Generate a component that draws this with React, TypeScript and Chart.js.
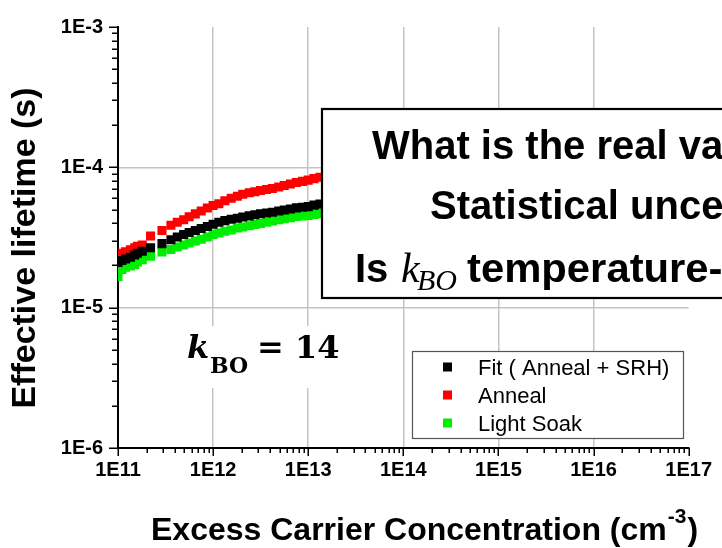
import React, { useEffect, useRef } from 'react';
import { Chart, registerables } from 'chart.js';

Chart.register(...registerables);

const SANS = "'Liberation Sans', Arial, Helvetica, sans-serif";
const SERIF = "'DejaVu Serif', 'Liberation Serif', serif";
const MATH_ITALIC = "'Liberation Serif', 'DejaVu Serif', serif";

// Excess carrier concentration (cm^-3) shared by all three series
const excessCarrierDensity = [
  1.0e11, 1.1e11, 1.2e11, 1.35e11, 1.5e11, 1.6e11, 1.8e11, 2.2e11, 2.9e11, 3.6e11,
  4.2e11, 4.9e11, 5.6e11, 6.5e11, 7.5e11, 8.7e11, 1.0e12, 1.15e12, 1.33e12, 1.55e12,
  1.8e12, 2.05e12, 2.4e12, 2.75e12, 3.15e12, 3.65e12, 4.2e12, 4.9e12, 5.6e12, 6.5e12,
  7.5e12, 8.7e12, 1.0e13, 1.15e13, 1.33e13, 1.55e13,
];

// Effective lifetime (s)
const fitLifetime = [
  2.10e-5, 2.17e-5, 2.22e-5, 2.29e-5, 2.37e-5, 2.44e-5, 2.52e-5, 2.67e-5, 2.86e-5, 3.05e-5,
  3.19e-5, 3.32e-5, 3.43e-5, 3.55e-5, 3.67e-5, 3.79e-5, 3.93e-5, 4.06e-5, 4.17e-5, 4.26e-5,
  4.34e-5, 4.42e-5, 4.51e-5, 4.60e-5, 4.67e-5, 4.72e-5, 4.78e-5, 4.89e-5, 4.96e-5, 5.05e-5,
  5.14e-5, 5.20e-5, 5.25e-5, 5.38e-5, 5.47e-5, 5.56e-5,
];
const annealLifetime = [
  2.37e-5, 2.44e-5, 2.50e-5, 2.59e-5, 2.67e-5, 2.74e-5, 2.80e-5, 3.24e-5, 3.55e-5, 3.87e-5,
  4.06e-5, 4.23e-5, 4.44e-5, 4.66e-5, 4.89e-5, 5.13e-5, 5.34e-5, 5.51e-5, 5.78e-5, 6.02e-5,
  6.22e-5, 6.44e-5, 6.58e-5, 6.69e-5, 6.83e-5, 6.96e-5, 7.07e-5, 7.25e-5, 7.42e-5, 7.60e-5,
  7.79e-5, 7.94e-5, 8.11e-5, 8.31e-5, 8.51e-5, 8.72e-5,
];
const lightSoakLifetime = [
  1.67e-5, 1.87e-5, 1.94e-5, 1.98e-5, 2.03e-5, 2.12e-5, 2.20e-5, 2.33e-5, 2.49e-5, 2.60e-5,
  2.71e-5, 2.80e-5, 2.89e-5, 2.99e-5, 3.07e-5, 3.19e-5, 3.32e-5, 3.40e-5, 3.50e-5, 3.58e-5,
  3.69e-5, 3.76e-5, 3.84e-5, 3.91e-5, 3.98e-5, 4.06e-5, 4.14e-5, 4.23e-5, 4.31e-5, 4.38e-5,
  4.46e-5, 4.50e-5, 4.54e-5, 4.62e-5, 4.68e-5, 4.75e-5,
];

const seriesNames = ['Fit ( Anneal + SRH)', 'Anneal', 'Light Soak'];
const seriesColors = ['#000000', '#ff0000', '#00ee00'];

const xDecadeExponents = [11, 12, 13, 14, 15, 16, 17];
const xDecadeLabels = ['1E11', '1E12', '1E13', '1E14', '1E15', '1E16', '1E17'];
const yDecadeExponents = [-6, -5, -4, -3];
const yDecadeLabels = ['1E-6', '1E-5', '1E-4', '1E-3'];
const minorMultipliers = [2, 3, 4, 5, 6, 7, 8, 9];

const xTitle = 'Excess Carrier Concentration (cm';
const xTitleSuperscript = '-3';
const yTitle = 'Effective lifetime (s)';
const kboSymbol = 'k';
const kboSubscript = 'BO';
const kboValue = '14';
const questionLine1 = 'What is the real value?';
const questionLine2 = 'Statistical uncertainty?';
const questionLine3Start = 'Is ';
const questionLine3End = 'temperature-dependent?';

type TickItem = { value: number; major: boolean };

function buildLogTicks(exps: number[]): TickItem[] {
  const ticks: TickItem[] = [];
  exps.forEach((e, i) => {
    const base = Math.pow(10, e);
    ticks.push({ value: base, major: true });
    if (i < exps.length - 1) {
      minorMultipliers.forEach((m) => ticks.push({ value: m * base, major: false }));
    }
  });
  return ticks;
}

function decadeLabel(value: number, exps: number[], labels: string[]): string {
  const e = Math.log10(value);
  if (Math.abs(e - Math.round(e)) > 1e-6) return '';
  const i = exps.indexOf(Math.round(e));
  return i >= 0 ? labels[i] : '';
}

function isDecade(value: number): boolean {
  const e = Math.log10(value);
  return Math.abs(e - Math.round(e)) < 1e-6;
}

const GRID = '#c4c4c4';

const overlayPlugin = {
  id: 'overlay',
  afterDraw(chart: any) {
    const ctx: CanvasRenderingContext2D = chart.ctx;
    const xs = chart.scales.x;
    const ys = chart.scales.y;

    // tick marks (major longer than minor), pointing outward
    ctx.save();
    ctx.strokeStyle = '#000';
    ctx.lineWidth = 1.5;
    for (const t of xs.ticks) {
      const px = Math.round(xs.getPixelForValue(t.value)) + 0.25;
      const len = isDecade(t.value) ? 8 : 5;
      ctx.beginPath();
      ctx.moveTo(px, xs.top);
      ctx.lineTo(px, xs.top + len);
      ctx.stroke();
    }
    for (const t of ys.ticks) {
      const py = Math.round(ys.getPixelForValue(t.value)) + 0.25;
      const len = isDecade(t.value) ? 9 : 6;
      ctx.beginPath();
      ctx.moveTo(ys.right, py);
      ctx.lineTo(ys.right - len, py);
      ctx.stroke();
    }
    ctx.restore();

    // legend
    ctx.save();
    ctx.fillStyle = '#fff';
    ctx.fillRect(412, 351, 271, 87);
    ctx.strokeStyle = '#555';
    ctx.lineWidth = 1.2;
    ctx.strokeRect(412.5, 351.5, 271, 87);
    ctx.font = `22px ${SANS}`;
    ctx.textBaseline = 'alphabetic';
    chart.data.datasets.forEach((ds: any, i: number) => {
      const cy = 367 + i * 28;
      ctx.fillStyle = ds.backgroundColor;
      ctx.fillRect(443, cy - 4.5, 9, 9);
      ctx.fillStyle = '#000';
      ctx.fillText(ds.label, 478, cy + 8);
    });
    ctx.restore();

    // axis titles
    ctx.save();
    ctx.fillStyle = '#000';
    ctx.font = `bold 32px ${SANS}`;
    ctx.textBaseline = 'alphabetic';
    ctx.fillText(xTitle, 151, 540);
    const w1 = ctx.measureText(xTitle).width;
    ctx.font = `bold 21px ${SANS}`;
    ctx.fillText(xTitleSuperscript, 151 + w1 + 1, 523);
    const w2 = ctx.measureText(xTitleSuperscript).width;
    ctx.font = `bold 32px ${SANS}`;
    ctx.fillText(')', 151 + w1 + w2 + 2, 540);

    ctx.translate(26, 248);
    ctx.rotate(-Math.PI / 2);
    ctx.font = `bold 34px ${SANS}`;
    ctx.textAlign = 'center';
    ctx.textBaseline = 'middle';
    ctx.fillText(yTitle, 0, 0);
    ctx.restore();

    // k_BO annotation
    ctx.save();
    ctx.fillStyle = '#fff';
    ctx.fillRect(182, 326, 168, 62);
    ctx.fillStyle = '#000';
    ctx.textBaseline = 'alphabetic';
    ctx.font = `italic bold 32px ${SERIF}`;
    ctx.fillText(kboSymbol, 187, 358);
    ctx.font = `bold 22px ${SERIF}`;
    ctx.fillText(kboSubscript, 210, 373);
    ctx.font = `bold 32px ${SERIF}`;
    ctx.fillText('= ' + kboValue, 257, 358);
    ctx.restore();

    // question box
    ctx.save();
    ctx.fillStyle = '#fff';
    ctx.fillRect(322, 109, 420, 189);
    ctx.strokeStyle = '#000';
    ctx.lineWidth = 2.2;
    ctx.strokeRect(322, 109, 420, 189);
    ctx.fillStyle = '#000';
    ctx.textBaseline = 'alphabetic';
    ctx.font = `bold 40px ${SANS}`;
    ctx.fillText(questionLine1, 372, 159);
    ctx.fillText(questionLine2, 430, 219);
    ctx.fillText(questionLine3Start, 355, 282);
    ctx.font = `italic 42px ${MATH_ITALIC}`;
    ctx.fillText(kboSymbol, 401, 282);
    ctx.font = `italic 30px ${MATH_ITALIC}`;
    ctx.fillText(kboSubscript, 417, 290);
    ctx.translate(467, 282);
    ctx.scale(1.045, 1);
    ctx.font = `bold 40px ${SANS}`;
    ctx.fillText(questionLine3End, 0, 0);
    ctx.restore();
  },
};

export default function App() {
  const canvasRef = useRef<HTMLCanvasElement>(null);

  useEffect(() => {
    document.body.style.margin = '0';
    const canvas = canvasRef.current;
    if (!canvas) return;

    const toPoints = (ys: number[]) => excessCarrierDensity.map((x, i) => ({ x, y: ys[i] }));
    const seriesValues = [fitLifetime, annealLifetime, lightSoakLifetime];

    const chart = new Chart(canvas, {
      type: 'scatter',
      data: {
        datasets: seriesValues.map((vals, i) => ({
          label: seriesNames[i],
          data: toPoints(vals),
          backgroundColor: seriesColors[i],
          borderColor: seriesColors[i],
          borderWidth: 0,
          pointStyle: 'rect',
          pointRadius: 6.4,
          pointHoverRadius: 6.4,
          clip: 0,
        })),
      },
      options: {
        responsive: false,
        maintainAspectRatio: false,
        animation: false,
        events: [],
        layout: { padding: { left: 0, top: 19, right: 28, bottom: 0 } },
        plugins: {
          legend: { display: false },
          tooltip: { enabled: false },
        },
        scales: {
          x: {
            type: 'logarithmic',
            min: 1e11,
            max: 1e17,
            afterFit: (s: any) => { s.height = 100; },
            afterBuildTicks: (s: any) => { s.ticks = buildLogTicks(xDecadeExponents); },
            border: { display: true, color: '#000', width: 2 },
            grid: {
              drawTicks: false,
              color: (c: any) => {
                const v = c.tick ? c.tick.value : 0;
                return isDecade(v) && v > 1e11 * 1.01 && v < 1e17 * 0.99 ? GRID : 'rgba(0,0,0,0)';
              },
              lineWidth: 1.5,
            },
            ticks: {
              autoSkip: false,
              maxRotation: 0,
              padding: 10,
              color: '#000',
              font: { family: SANS, size: 20, weight: 'bold' },
              callback: (v: any) => decadeLabel(Number(v), xDecadeExponents, xDecadeLabels),
            },
          },
          y: {
            type: 'logarithmic',
            min: 1e-6,
            max: 1e-3,
            afterFit: (s: any) => { s.width = 118; },
            afterBuildTicks: (s: any) => { s.ticks = buildLogTicks(yDecadeExponents); },
            border: { display: true, color: '#000', width: 2 },
            grid: {
              drawTicks: false,
              color: (c: any) => {
                const v = c.tick ? c.tick.value : 0;
                return isDecade(v) && v > 1e-6 * 1.01 && v < 1e-3 * 0.99 ? GRID : 'rgba(0,0,0,0)';
              },
              lineWidth: 1.5,
            },
            ticks: {
              autoSkip: false,
              padding: 15,
              color: '#000',
              font: { family: SANS, size: 20, weight: 'bold' },
              callback: (v: any) => decadeLabel(Number(v), yDecadeExponents, yDecadeLabels),
            },
          },
        },
      },
      plugins: [overlayPlugin],
    } as any);

    return () => chart.destroy();
  }, []);

  return (
    <div style={{ width: 722, height: 548, background: '#fff', overflow: 'hidden' }}>
      <canvas ref={canvasRef} width={722} height={548} style={{ display: 'block' }} />
    </div>
  );
}
